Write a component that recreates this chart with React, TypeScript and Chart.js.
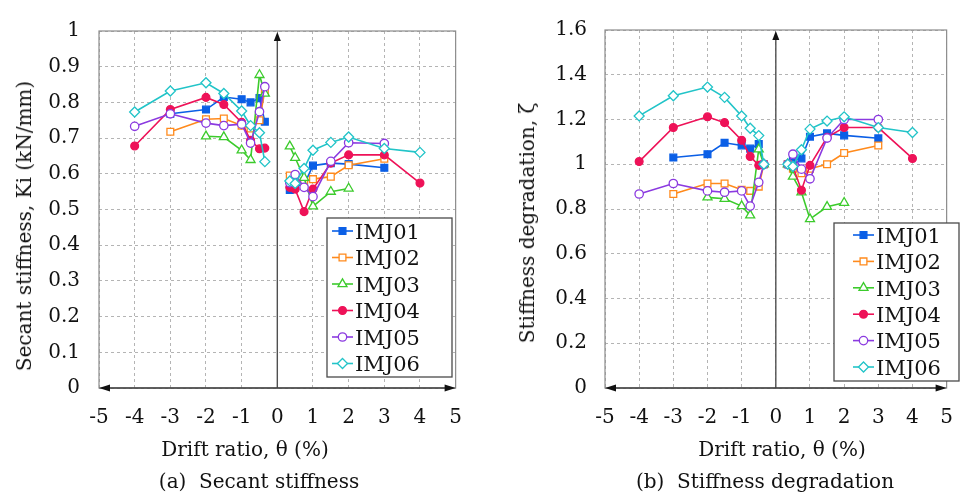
import React, { useEffect, useRef } from 'react';
import { Chart, registerables } from 'chart.js';

Chart.register(...registerables);

const FONT = "'DejaVu Serif', serif";

// ---------- data ----------
const seriesNames = ['IMJ01', 'IMJ02', 'IMJ03', 'IMJ04', 'IMJ05', 'IMJ06'];
const driftNeg = [-4, -3, -2, -1.5, -1, -0.75, -0.5, -0.35];
const driftPos = [0.35, 0.5, 0.75, 1, 1.5, 2, 3, 4];
const xTicks = [-5, -4, -3, -2, -1, 0, 1, 2, 3, 4, 5];

// Secant stiffness Ki (kN/mm)
const kIMJ01Neg = [null, 0.768, 0.78, 0.815, 0.809, 0.8, 0.812, 0.746];
const kIMJ01Pos = [0.555, 0.566, 0.57, 0.623, 0.63, 0.627, 0.617, null];
const kIMJ02Neg = [null, 0.718, 0.753, 0.755, 0.735, 0.727, 0.75, 0.833];
const kIMJ02Pos = [0.595, 0.585, 0.578, 0.585, 0.592, 0.624, 0.642, null];
const kIMJ03Neg = [null, null, 0.705, 0.703, 0.666, 0.639, 0.877, 0.825];
const kIMJ03Pos = [0.677, 0.645, 0.589, 0.509, 0.55, 0.559, null, null];
const kIMJ04Neg = [0.678, 0.78, 0.814, 0.794, 0.744, 0.694, 0.67, 0.672];
const kIMJ04Pos = [0.562, 0.557, 0.494, 0.557, 0.63, 0.653, 0.653, 0.574];
const kIMJ05Neg = [0.733, 0.768, 0.742, 0.735, 0.739, 0.686, 0.774, 0.844];
const kIMJ05Pos = [0.575, 0.598, 0.562, 0.536, 0.635, 0.687, 0.685, null];
const kIMJ06Neg = [0.773, 0.832, 0.855, 0.825, 0.776, 0.735, 0.715, 0.634];
const kIMJ06Pos = [0.58, 0.573, 0.615, 0.666, 0.688, 0.703, 0.671, 0.66];

// Stiffness degradation zeta
const zIMJ01Neg = [null, 1.03, 1.045, 1.096, 1.084, 1.07, 1.09, 1.0];
const zIMJ01Pos = [1.0, 1.02, 1.026, 1.123, 1.138, 1.129, 1.116, null];
const zIMJ02Neg = [null, 0.867, 0.914, 0.914, 0.886, 0.881, 0.9, 1.0];
const zIMJ02Pos = [1.0, 0.98, 0.96, 0.98, 1.0, 1.05, 1.084, null];
const zIMJ03Neg = [null, null, 0.852, 0.846, 0.813, 0.772, 1.067, 1.0];
const zIMJ03Pos = [1.0, 0.945, 0.875, 0.755, 0.81, 0.828, null, null];
const zIMJ04Neg = [1.012, 1.164, 1.212, 1.186, 1.107, 1.035, 0.995, 1.0];
const zIMJ04Pos = [1.0, 0.99, 0.884, 0.995, 1.12, 1.164, 1.164, 1.026];
const zIMJ05Neg = [0.867, 0.914, 0.881, 0.875, 0.881, 0.813, 0.919, 1.0];
const zIMJ05Pos = [1.0, 1.045, 0.978, 0.935, 1.117, 1.2, 1.2, null];
const zIMJ06Neg = [1.216, 1.306, 1.345, 1.299, 1.216, 1.161, 1.128, 1.0];
const zIMJ06Pos = [1.0, 0.99, 1.065, 1.157, 1.193, 1.212, 1.164, 1.142];

const kNeg = [kIMJ01Neg, kIMJ02Neg, kIMJ03Neg, kIMJ04Neg, kIMJ05Neg, kIMJ06Neg];
const kPos = [kIMJ01Pos, kIMJ02Pos, kIMJ03Pos, kIMJ04Pos, kIMJ05Pos, kIMJ06Pos];
const zNeg = [zIMJ01Neg, zIMJ02Neg, zIMJ03Neg, zIMJ04Neg, zIMJ05Neg, zIMJ06Neg];
const zPos = [zIMJ01Pos, zIMJ02Pos, zIMJ03Pos, zIMJ04Pos, zIMJ05Pos, zIMJ06Pos];

// ---------- styles ----------
const seriesColors = ['#0b5fe6', '#ff8a1c', '#3ccb2c', '#ee1258', '#8b3ae0', '#22c4c8'];
const seriesStyles = ['rect', 'rect', 'triangle', 'circle', 'circle', 'rectRot'];
const seriesFilled = [true, false, false, true, false, false];
const seriesRadius = [4.8, 4.8, 5.2, 3.9, 4.2, 5];

function buildPoints(neg: (number | null)[], pos: (number | null)[]) {
  const pts: { x: number; y: number | null }[] = [];
  driftNeg.forEach((x, i) => pts.push({ x, y: neg[i] }));
  pts.push({ x: 0, y: null });
  driftPos.forEach((x, i) => pts.push({ x, y: pos[i] }));
  return pts;
}

function buildDatasets(neg: any[], pos: any[]) {
  return seriesNames.map((name, i) => ({
    label: name,
    data: buildPoints(neg[i], pos[i]),
    borderColor: seriesColors[i],
    backgroundColor: seriesColors[i],
    borderWidth: 1.6,
    pointStyle: seriesStyles[i],
    pointRadius: seriesRadius[i],
    pointBorderWidth: 1.3,
    pointBorderColor: seriesColors[i],
    pointBackgroundColor: seriesFilled[i] ? seriesColors[i] : '#ffffff',
    spanGaps: false,
    tension: 0,
    order: 6 - i,
  }));
}

function drawMarker(ctx: CanvasRenderingContext2D, i: number, x: number, y: number) {
  const r = seriesRadius[i];
  const style = seriesStyles[i];
  ctx.save();
  ctx.beginPath();
  if (style === 'rect') {
    const s = r * Math.SQRT1_2;
    ctx.rect(x - s, y - s, 2 * s, 2 * s);
  } else if (style === 'rectRot') {
    ctx.moveTo(x - r, y);
    ctx.lineTo(x, y - r);
    ctx.lineTo(x + r, y);
    ctx.lineTo(x, y + r);
    ctx.closePath();
  } else if (style === 'triangle') {
    for (let k = 0; k < 3; k++) {
      const a = (k * 2 * Math.PI) / 3;
      const px = x + Math.sin(a) * r;
      const py = y - Math.cos(a) * r;
      if (k === 0) ctx.moveTo(px, py);
      else ctx.lineTo(px, py);
    }
    ctx.closePath();
  } else {
    ctx.arc(x, y, r, 0, Math.PI * 2);
  }
  ctx.fillStyle = seriesFilled[i] ? seriesColors[i] : '#ffffff';
  ctx.fill();
  ctx.lineWidth = 1.3;
  ctx.strokeStyle = seriesColors[i];
  ctx.stroke();
  ctx.restore();
}

const framePlugin = {
  id: 'frameAxes',
  beforeDatasetsDraw(chart: any) {
    const { ctx, chartArea, scales } = chart;
    const { left, right, top, bottom } = chartArea;
    ctx.save();
    ctx.strokeStyle = '#8c8c8c';
    ctx.lineWidth = 1.2;
    ctx.strokeRect(left, top, right - left, bottom - top);
    // zero vertical axis with arrow
    const x0 = scales.x.getPixelForValue(0);
    ctx.strokeStyle = '#505050';
    ctx.lineWidth = 1.4;
    ctx.beginPath();
    ctx.moveTo(x0, bottom);
    ctx.lineTo(x0, top + 6);
    ctx.stroke();
    ctx.fillStyle = '#111';
    ctx.beginPath();
    ctx.moveTo(x0, top + 1);
    ctx.lineTo(x0 - 3.5, top + 10);
    ctx.lineTo(x0 + 3.5, top + 10);
    ctx.closePath();
    ctx.fill();
    // bottom axis with two arrows
    ctx.strokeStyle = '#404040';
    ctx.lineWidth = 1.4;
    ctx.beginPath();
    ctx.moveTo(left + 4, bottom);
    ctx.lineTo(right - 4, bottom);
    ctx.stroke();
    ctx.beginPath();
    ctx.moveTo(left, bottom);
    ctx.lineTo(left + 11, bottom - 3.5);
    ctx.lineTo(left + 11, bottom + 3.5);
    ctx.closePath();
    ctx.fill();
    ctx.beginPath();
    ctx.moveTo(right, bottom);
    ctx.lineTo(right - 11, bottom - 3.5);
    ctx.lineTo(right - 11, bottom + 3.5);
    ctx.closePath();
    ctx.fill();
    ctx.restore();
  },
  afterDatasetsDraw(chart: any, _args: any, opts: any) {
    if (!opts || opts.x1 === undefined) return;
    const { ctx } = chart;
    ctx.save();
    ctx.fillStyle = '#ffffff';
    ctx.fillRect(opts.x1, opts.y1, opts.x2 - opts.x1, opts.y2 - opts.y1);
    ctx.strokeStyle = '#4a4a4a';
    ctx.lineWidth = 1.3;
    ctx.strokeRect(opts.x1, opts.y1, opts.x2 - opts.x1, opts.y2 - opts.y1);
    seriesNames.forEach((name, i) => {
      const y = opts.firstY + i * opts.step;
      ctx.strokeStyle = seriesColors[i];
      ctx.lineWidth = 1.6;
      ctx.beginPath();
      ctx.moveTo(opts.lx1, y);
      ctx.lineTo(opts.lx2, y);
      ctx.stroke();
      drawMarker(ctx, i, (opts.lx1 + opts.lx2) / 2, y);
      ctx.fillStyle = '#111111';
      ctx.font = `21px ${FONT}`;
      ctx.textAlign = 'left';
      ctx.textBaseline = 'alphabetic';
      ctx.fillText(name, opts.tx, y + 7.7);
    });
    ctx.restore();
  },
};

const fmtTick = (v: any) => String(Number(Number(v).toFixed(2)));

function makeConfig(neg: any[], pos: any[], yMax: number, yStep: number, yWidth: number, padRight: number, yPad: number, legend: any) {
  return {
    type: 'line' as const,
    data: { datasets: buildDatasets(neg, pos) },
    options: {
      animation: false as const,
      responsive: false,
      maintainAspectRatio: false,
      layout: { padding: { left: 0, top: 19, right: padRight, bottom: 34 } },
      plugins: {
        legend: { display: false },
        tooltip: { enabled: false },
        frameAxes: legend,
      },
      scales: {
        x: {
          type: 'linear' as const,
          min: -5,
          max: 5,
          afterBuildTicks: (scale: any) => {
            scale.ticks = xTicks.map((v) => ({ value: v }));
          },
          afterFit: (scale: any) => {
            scale.height = 71;
          },
          ticks: {
            font: { family: FONT, size: 20 },
            color: '#111111',
            padding: 18,
            maxRotation: 0,
            autoSkip: false,
            callback: fmtTick,
          },
          grid: { color: '#b4b4b4', lineWidth: 1, drawTicks: false },
          border: { display: false, dash: [3, 3] },
        },
        y: {
          type: 'linear' as const,
          min: 0,
          max: yMax,
          afterFit: (scale: any) => {
            scale.width = yWidth;
          },
          ticks: {
            stepSize: yStep,
            font: { family: FONT, size: 20 },
            color: '#111111',
            padding: yPad,
            callback: fmtTick,
          },
          grid: { color: '#b4b4b4', lineWidth: 1, drawTicks: false },
          border: { display: false, dash: [3, 3] },
        },
      },
    },
    plugins: [framePlugin],
  };
}

function ChartCanvas(props: { config: any; left: number; width: number }) {
  const ref = useRef<HTMLCanvasElement | null>(null);
  useEffect(() => {
    if (!ref.current) return;
    const chart = new Chart(ref.current, props.config);
    return () => chart.destroy();
  }, []);
  return (
    <canvas
      ref={ref}
      width={props.width}
      height={493}
      style={{ position: 'absolute', left: props.left, top: 0, width: props.width, height: 493, display: 'block' }}
    />
  );
}

const textBase: React.CSSProperties = {
  position: 'absolute',
  fontFamily: FONT,
  fontSize: 20,
  lineHeight: '20px',
  color: '#111111',
  whiteSpace: 'pre',
};

function CenterText(props: { text: string; cx: number; baseline: number }) {
  return <div style={{ ...textBase, left: props.cx, top: props.baseline - 17, transform: 'translateX(-50%)' }}>{props.text}</div>;
}

function VertText(props: { text: string; cx: number; cy: number }) {
  return (
    <div style={{ ...textBase, left: props.cx, top: props.cy, transform: 'translate(-50%, -50%) rotate(-90deg)' }}>
      {props.text}
    </div>
  );
}

export default function App() {
  const leftConfig = makeConfig(kNeg, kPos, 1, 0.1, 99, 21, 19, {
    x1: 327, y1: 218, x2: 452, y2: 377, firstY: 231, step: 26.5, lx1: 332, lx2: 353, tx: 355,
  });
  const rightConfig = makeConfig(zNeg, zPos, 1.6, 0.2, 125, 8, 18, {
    x1: 354, y1: 223, x2: 479, y2: 381, firstY: 235, step: 26.4, lx1: 373, lx2: 394, tx: 396,
  });
  return (
    <div style={{ position: 'absolute', left: 0, top: 0, width: 971, height: 493, background: '#ffffff', overflow: 'hidden' }}>
      <ChartCanvas config={leftConfig} left={0} width={480} />
      <ChartCanvas config={rightConfig} left={480} width={491} />
      <VertText text="Secant stiffness, Ki (kN/mm)" cx={24} cy={226} />
      <VertText text="Stiffness degradation, ζ" cx={527} cy={223} />
      <CenterText text="Drift ratio, θ (%)" cx={245} baseline={456} />
      <CenterText text="Drift ratio, θ (%)" cx={782} baseline={456} />
      <CenterText text="(a)  Secant stiffness" cx={259} baseline={488} />
      <CenterText text="(b)  Stiffness degradation" cx={765} baseline={488} />
    </div>
  );
}
